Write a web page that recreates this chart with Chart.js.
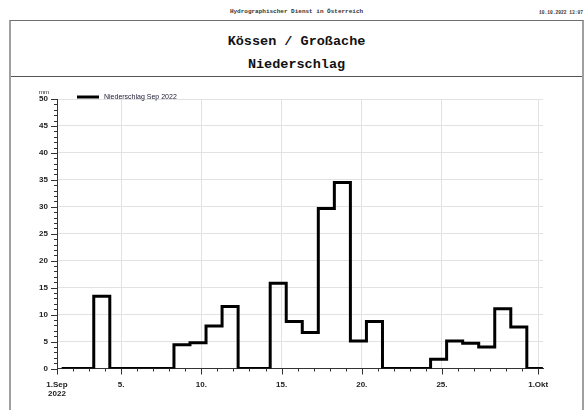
<!DOCTYPE html>
<html>
<head>
<meta charset="utf-8">
<script src="https://cdn.jsdelivr.net/npm/chart.js@4.4.1/dist/chart.umd.min.js"></script>
<style>
  body { margin: 0; width: 586px; height: 410px; overflow: hidden; background: #fff; position: relative; }
  .mono { position: absolute; font-family: "Liberation Mono", "DejaVu Sans Mono", monospace; font-weight: bold; color: #111; white-space: nowrap; }
  #header { left: 9px; width: 575px; top: 9px; line-height: 6px; font-size: 6px; text-align: center; color: #333; }
  #stamp { right: 3px; top: 10px; line-height: 5px; font-size: 4.6px; color: #333; }
  #frame { position: absolute; left: 9px; top: 20px; width: 571px; height: 400px; border-left: 2px solid #a0a0a0; border-right: 2px solid #a0a0a0; border-top: 1px solid #707070; }
  #divider { position: absolute; left: 11px; top: 76px; width: 571px; height: 1px; background: #555; }
  .title { left: 9px; width: 575px; text-align: center; font-size: 13.5px; line-height: 16px; }
  #t1 { top: 34px; }
  #t2 { top: 57px; }
  canvas { position: absolute; left: 0; top: 0; }
</style>
</head>
<body>
<div id="header" class="mono">Hydrographischer Dienst in Österreich</div>
<div id="stamp" class="mono">10.10.2022 13:07</div>
<div id="frame"></div>
<div id="divider"></div>
<div id="t1" class="mono title">Kössen / Großache</div>
<div id="t2" class="mono title">Niederschlag</div>
<canvas id="rainChart" width="586" height="410"></canvas>
<script>
// Tagessummen Niederschlag September 2022 (mm), Messtag jeweils 07:00 bis 07:00
const days = [1, 2, 3, 4, 5, 6, 7, 8, 9, 10, 11, 12, 13, 14, 15, 16, 17, 18, 19, 20, 21, 22, 23, 24, 25, 26, 27, 28, 29, 30];
const rain = [0, 0, 13.4, 0, 0, 0, 0, 4.4, 4.8, 7.9, 11.5, 0, 0, 15.8, 8.7, 6.7, 29.7, 34.5, 5.1, 8.7, 0, 0, 0, 1.7, 5.1, 4.7, 4.0, 11.1, 7.7, 0];
const measureHour = 7;
const xTickDays = [0, 4, 9, 14, 19, 24, 30];
const xTickLabels = [['1.Sep', '2022'], '5.', '10.', '15.', '20.', '25.', '1.Okt'];
const yTicks = [0, 5, 10, 15, 20, 25, 30, 35, 40, 45, 50];

const tickFont = { family: '"Liberation Sans", Arial, sans-serif', size: 8, weight: 'bold' };

// Stufenpunkte: Beginn jedes Messtages, plus Ende des letzten
const points = days.map((d, i) => ({ x: d - 1 + measureHour / 24, y: rain[i] }));
points.push({ x: days.length + measureHour / 24, y: rain[rain.length - 1] });

const decorations = {
    id: 'decorations',
    afterDraw(chart) {
        const ctx = chart.ctx, xs = chart.scales.x, ys = chart.scales.y;
        const base = ys.getPixelForValue(0), left = xs.left;
        ctx.save();
        ctx.strokeStyle = '#333';
        ctx.lineWidth = 1;
        ctx.beginPath();
        for (let d = 0; d <= days.length; d++) {
            const px = Math.round(xs.getPixelForValue(d)) + 0.5;
            const len = xTickDays.includes(d) ? 6 : 3;
            ctx.moveTo(px, base);
            ctx.lineTo(px, base + len);
        }
        for (let v = 0; v <= yTicks[yTicks.length - 1]; v++) {
            const py = Math.round(ys.getPixelForValue(v)) + 0.5;
            const len = v % 5 === 0 ? 6 : 3;
            ctx.moveTo(left, py);
            ctx.lineTo(left - len, py);
        }
        ctx.stroke();

        // Einheit
        ctx.fillStyle = '#222';
        ctx.font = '6px "Liberation Sans", Arial, sans-serif';
        ctx.textAlign = 'center';
        ctx.textBaseline = 'middle';
        ctx.fillText('mm', left - 13, chart.chartArea.top - 7);

        // Legende
        const ds = chart.data.datasets[0];
        const ly = chart.chartArea.top - 2;
        ctx.strokeStyle = ds.borderColor;
        ctx.lineWidth = 3;
        ctx.beginPath();
        ctx.moveTo(left + 20, ly);
        ctx.lineTo(left + 42, ly);
        ctx.stroke();
        ctx.fillStyle = '#22223a';
        ctx.font = '7px "Liberation Sans", Arial, sans-serif';
        ctx.textAlign = 'left';
        ctx.fillText(ds.label, left + 47, ly);
        ctx.restore();
    }
};

new Chart(document.getElementById('rainChart'), {
    type: 'line',
    data: {
        datasets: [{
            label: 'Niederschlag Sep 2022',
            data: points,
            borderColor: '#000',
            borderWidth: 3,
            stepped: 'before',
            pointRadius: 0,
            fill: false
        }]
    },
    options: {
        responsive: false,
        animation: false,
        devicePixelRatio: 1,
        layout: { padding: { top: 99, right: 43, left: 0, bottom: 0 } },
        plugins: { legend: { display: false }, tooltip: { enabled: false } },
        scales: {
            x: {
                type: 'linear',
                min: 0,
                max: days.length + 0.3,
                afterFit: s => { s.height = 41.5; },
                afterBuildTicks: s => { s.ticks = xTickDays.map(v => ({ value: v })); },
                ticks: {
                    autoSkip: false,
                    maxRotation: 0,
                    padding: 11,
                    color: '#222',
                    font: tickFont,
                    callback: v => xTickLabels[xTickDays.indexOf(v)]
                },
                grid: { color: '#e2e2e2', drawTicks: false },
                border: { color: '#333', width: 1 }
            },
            y: {
                min: 0,
                max: 50,
                afterFit: s => { s.width = 57; },
                afterBuildTicks: s => { s.ticks = yTicks.map(v => ({ value: v })); },
                ticks: { padding: 9, color: '#222', font: tickFont },
                grid: { color: '#e2e2e2', drawTicks: false },
                border: { color: '#333', width: 1 }
            }
        }
    },
    plugins: [decorations]
});
</script>
</body>
</html>
